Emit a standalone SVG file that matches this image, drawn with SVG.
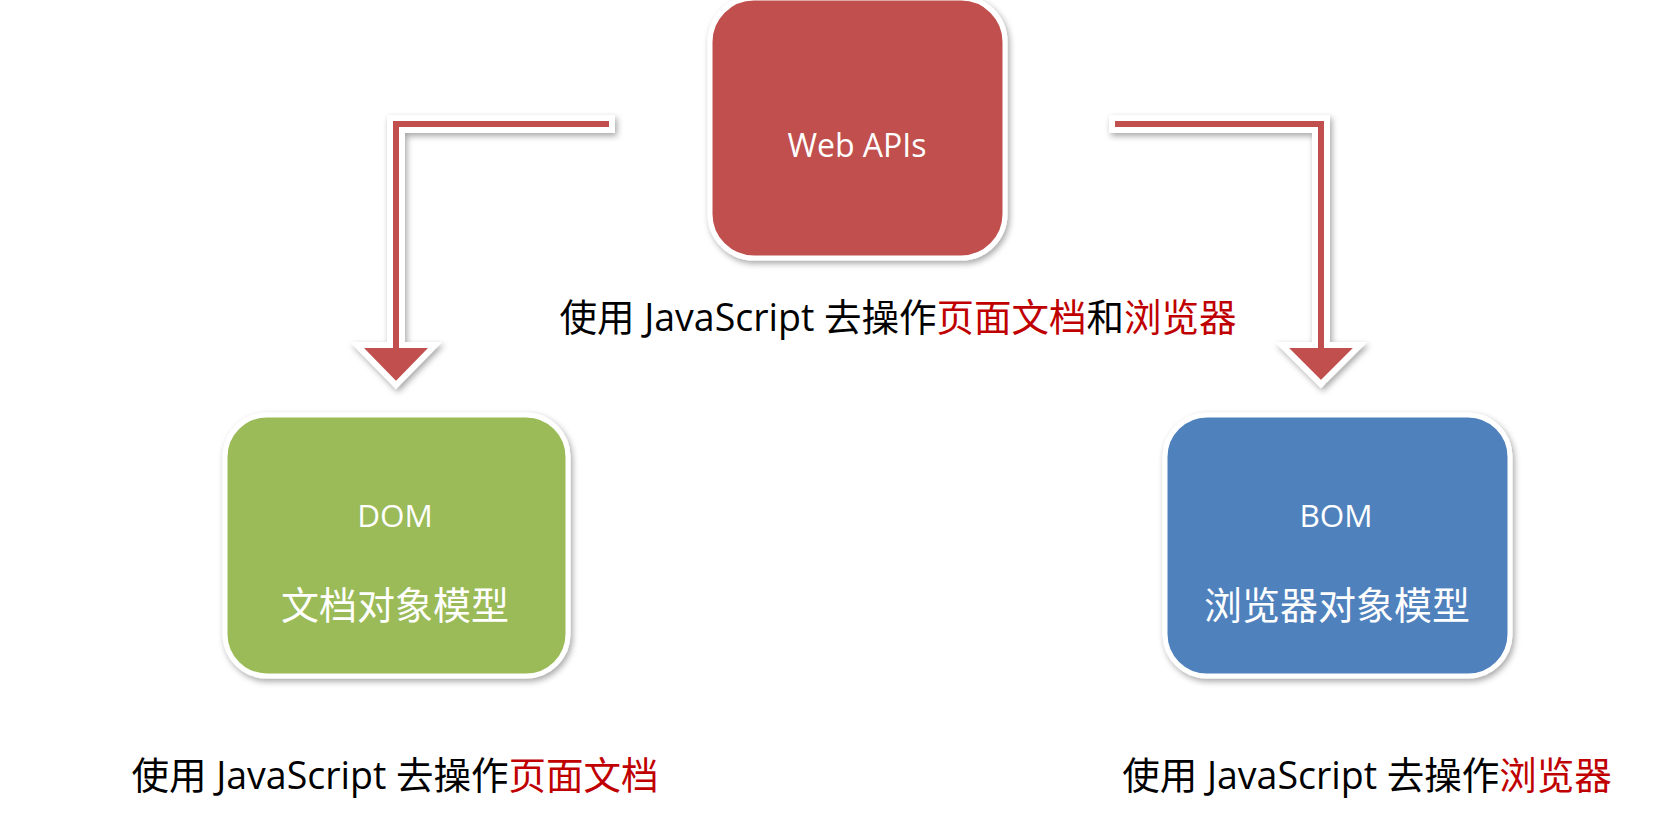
<svg xmlns="http://www.w3.org/2000/svg" width="1680" height="826" viewBox="0 0 1680 826">
<defs>
<filter id="sh" x="-20%" y="-20%" width="140%" height="140%">
<feDropShadow dx="2" dy="3" stdDeviation="3" flood-color="#000" flood-opacity="0.35"/>
</filter>
</defs>
<style>
.box{stroke:#fff;stroke-width:5;filter:url(#sh)}
.arrow{fill:#C0504D;stroke:#fff;stroke-width:6;stroke-linejoin:miter;filter:url(#sh)}
.lbl{font-family:"Open Sans","Noto Sans CJK SC",sans-serif;fill:#fff;text-anchor:middle}
.cap{font-family:"Open Sans","Noto Sans CJK SC",sans-serif;font-size:37.5px;fill:#000;text-anchor:middle}
.hl{fill:#C00000}
</style>
<rect width="1680" height="826" fill="#fff"/>
<g id="connectors">
<path class="arrow" d="M612,118 L390,118 L390,345 L357,345 L396,385 L435,345 L402,345 L402,130 L612,130 Z"/>
<path class="arrow" d="M1112,118 L1327,118 L1327,345 L1360,345 L1321,384 L1282,345 L1315,345 L1315,130 L1112,130 Z"/>
</g>
<g id="webapis">
<rect class="box" x="710" y="-2" width="295" height="260" rx="44" fill="#C0504D"/>
<text class="lbl" x="857" y="157" font-size="32">Web APIs</text>
</g>
<g id="dom">
<rect class="box" x="225" y="415" width="343" height="261" rx="42" fill="#9BBB59"/>
<text class="lbl" x="395" y="527" font-size="31.5">DOM</text>
<text class="lbl" x="395" y="619" font-size="38">文档对象模型</text>
</g>
<g id="bom">
<rect class="box" x="1165" y="415" width="345" height="261" rx="42" fill="#4F81BD"/>
<text class="lbl" x="1336" y="527" font-size="31.5">BOM</text>
<text class="lbl" x="1337" y="619" font-size="38">浏览器对象模型</text>
</g>
<g id="caption-top">
<text class="cap" x="898" y="331">使用 JavaScript 去操作<tspan class="hl">页面文档</tspan>和<tspan class="hl">浏览器</tspan></text>
</g>
<g id="caption-dom">
<text class="cap" x="395" y="789">使用 JavaScript 去操作<tspan class="hl">页面文档</tspan></text>
</g>
<g id="caption-bom">
<text class="cap" x="1367" y="789">使用 JavaScript 去操作<tspan class="hl">浏览器</tspan></text>
</g>
</svg>
